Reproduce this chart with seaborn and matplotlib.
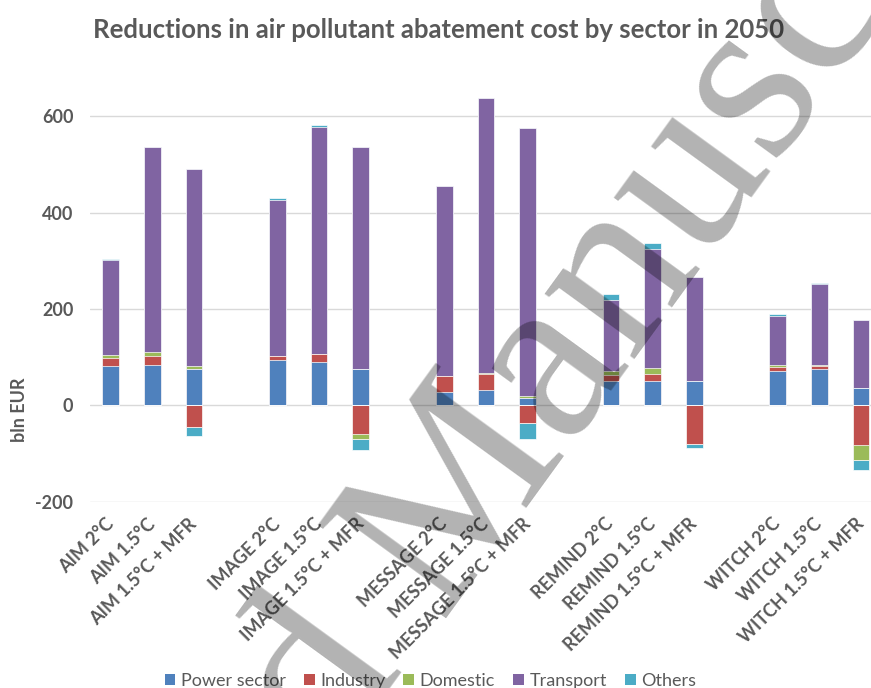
import numpy as np
import matplotlib
matplotlib.use("Agg")
import matplotlib.pyplot as plt
from matplotlib.patches import Patch
import seaborn as sns

# scenario values in bln EUR
scenarios = ["AIM 2°C", "AIM 1.5°C", "AIM 1.5°C + MFR",
             "IMAGE 2°C", "IMAGE 1.5°C", "IMAGE 1.5°C + MFR",
             "MESSAGE 2°C", "MESSAGE 1.5°C", "MESSAGE 1.5°C + MFR",
             "REMIND 2°C", "REMIND 1.5°C", "REMIND 1.5°C + MFR",
             "WITCH 2°C", "WITCH 1.5°C", "WITCH 1.5°C + MFR"]
sectors = ["Power sector", "Industry", "Domestic", "Transport", "Others"]
colors = ["#4F81BD", "#C0504D", "#9BBB59", "#8064A2", "#4BACC6"]

power = [81, 84, 75, 93, 90, 75, 28, 32, 16, 50, 50, 50, 71, 75, 35]
industry = [18, 18, -46, 10, 16, -60, 32, 33, -37, 12, 16, -80, 9, 6, -82]
domestic = [6, 9, 7, 0, 0, -10, 0, 3, 4, 9, 12, 0, 4, 3, -31]
transport = [196, 424, 409, 324, 471, 461, 396, 570, 555, 147, 246, 216, 102, 167, 141]
others = [2, 2, -17, 3, 4, -23, 0, 0, -32, 14, 12, -8, 3, 3, -21]

title = "Reductions in air pollutant abatement cost by sector in 2050"
grey = "#595959"

sns.set_theme(style="white")
plt.rcParams["font.family"] = ["Lato", "DejaVu Sans"]
plt.rcParams["axes.unicode_minus"] = False

# empty slot between the model groups
order = []
for i, s in enumerate(scenarios):
    if i > 0 and i % 3 == 0:
        order.append(" " * (i // 3))
    order.append(s)

vals = np.array([power, industry, domestic, transport, others], dtype=float)
pos = np.cumsum(np.clip(vals, 0, None), axis=0)
neg = np.cumsum(np.clip(vals, None, 0), axis=0)

fig = plt.figure(figsize=(8.71, 6.88), dpi=100)
ax = fig.add_axes([0.1033, 0.2708, 0.909, 0.6304])

# stacked bars: draw the cumulative totals from the top layer down
for k in range(len(sectors) - 1, -1, -1):
    for stack in (pos, neg):
        sns.barplot(x=scenarios, y=stack[k], order=order, color=colors[k],
                    width=0.4, errorbar=None, saturation=1,
                    edgecolor="white", linewidth=0.5, ax=ax)

ax.set_xlim(-0.5, len(order) - 0.5)
ax.set_ylim(-200, 700)
ax.set_yticks([-200, 0, 200, 400, 600])
ax.yaxis.grid(True, color="#d9d9d9", lw=1)
ax.set_axisbelow(True)
sns.despine(ax=ax, left=True, bottom=True)
ax.set_xlabel("")
ax.set_ylabel("")
ax.set_xticks(range(len(order)), order, rotation=45, ha="right", va="center",
              rotation_mode="anchor")
ax.tick_params(axis="both", length=0, colors=grey, labelsize=13)
ax.tick_params(axis="x", pad=14)
ax.tick_params(axis="y", pad=12)
for lab in ax.get_xticklabels() + ax.get_yticklabels():
    lab.set_fontweight("bold")

fig.text(0.504, 0.956, title, ha="center", va="center", fontsize=18.5,
         fontweight="bold", color=grey)
fig.text(0.022, 0.404, "bln EUR", rotation=90, ha="center", va="center",
         fontsize=13, fontweight="bold", color=grey)

handles = [Patch(facecolor=c, edgecolor="none") for c in colors]
fig.legend(handles, sectors, loc="center", bbox_to_anchor=(0.494, 0.01), ncol=5,
           frameon=False, fontsize=13, labelcolor=grey, handlelength=0.6,
           handleheight=0.6, handletextpad=0.3, columnspacing=1.0)

# "Accepted Manuscript" watermark over the figure
wm = dict(rotation=54, rotation_mode="anchor", va="baseline", fontsize=174,
          family="Liberation Serif", color="black", alpha=0.3, zorder=10)
fig.text(440 / 871, 1 - 618 / 688, "Manuscript", ha="left", **wm)
fig.text(404 / 871, 1 - 667 / 688, "Accepted", ha="right", **wm)

fig.savefig("out.png", dpi=100)
